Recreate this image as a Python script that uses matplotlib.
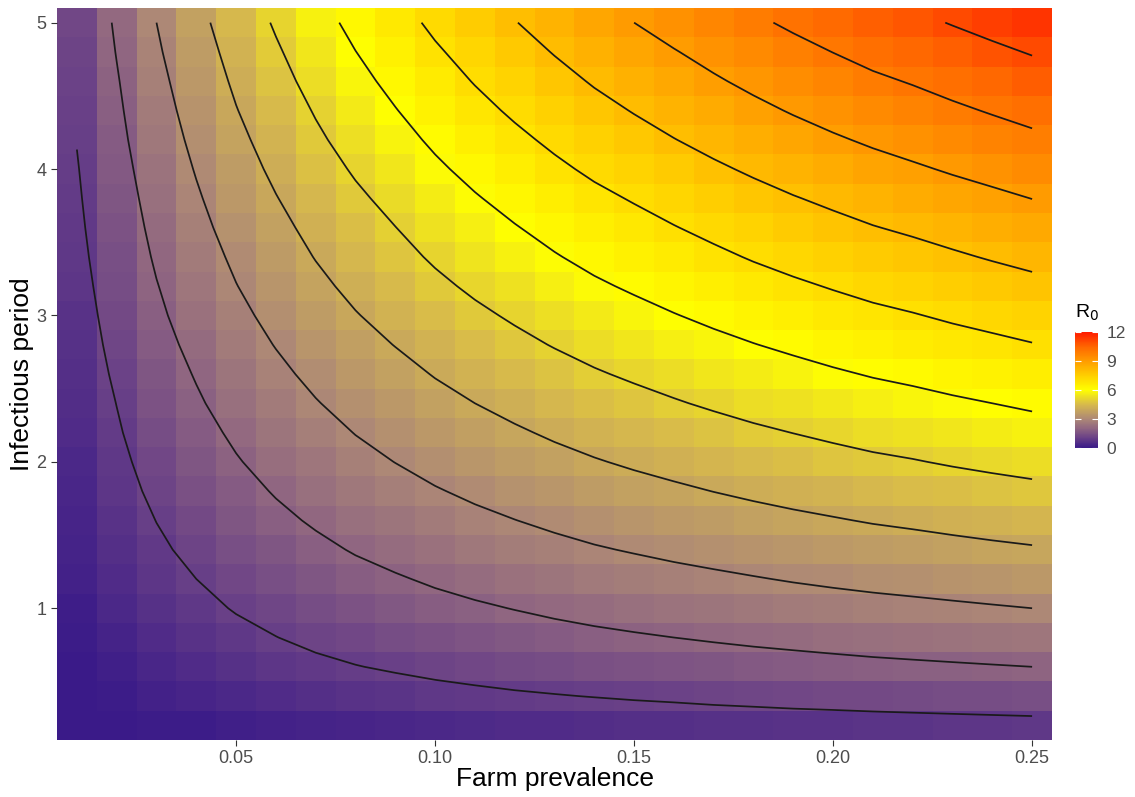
import numpy as np
import matplotlib
matplotlib.use("Agg")
import matplotlib.pyplot as plt
from matplotlib.colors import LinearSegmentedColormap

# grid of farm prevalence (columns) and infectious period (rows)
prevalence = [0.01, 0.02, 0.03, 0.04, 0.05, 0.06, 0.07, 0.08, 0.09, 0.10,
              0.11, 0.12, 0.13, 0.14, 0.15, 0.16, 0.17, 0.18, 0.19, 0.20,
              0.21, 0.22, 0.23, 0.24, 0.25]
infectious_period = [0.2, 0.4, 0.6, 0.8, 1.0, 1.2, 1.4, 1.6, 1.8, 2.0,
                     2.2, 2.4, 2.6, 2.8, 3.0, 3.2, 3.4, 3.6, 3.8, 4.0,
                     4.2, 4.4, 4.6, 4.8, 5.0]

# R0 for each (infectious period, prevalence) cell, one row per period
r0 = [
    [0.01, 0.03, 0.05, 0.08, 0.15, 0.20, 0.26, 0.31, 0.35, 0.40, 0.44, 0.47, 0.51, 0.54, 0.57, 0.60, 0.63, 0.65, 0.68, 0.70, 0.72, 0.74, 0.76, 0.78, 0.80],
    [0.02, 0.06, 0.19, 0.30, 0.40, 0.49, 0.58, 0.66, 0.73, 0.80, 0.86, 0.92, 0.97, 1.02, 1.07, 1.11, 1.16, 1.20, 1.24, 1.27, 1.31, 1.34, 1.37, 1.40, 1.43],
    [0.04, 0.17, 0.35, 0.49, 0.63, 0.76, 0.87, 0.98, 1.07, 1.16, 1.24, 1.32, 1.39, 1.46, 1.52, 1.58, 1.64, 1.69, 1.74, 1.79, 1.84, 1.88, 1.92, 1.96, 2.00],
    [0.07, 0.28, 0.49, 0.67, 0.84, 0.99, 1.14, 1.26, 1.38, 1.49, 1.59, 1.68, 1.77, 1.86, 1.93, 2.00, 2.07, 2.14, 2.20, 2.26, 2.32, 2.37, 2.42, 2.47, 2.52],
    [0.13, 0.38, 0.63, 0.84, 1.04, 1.21, 1.38, 1.53, 1.66, 1.80, 1.91, 2.02, 2.13, 2.22, 2.31, 2.40, 2.48, 2.56, 2.63, 2.70, 2.77, 2.82, 2.88, 2.94, 3.00],
    [0.19, 0.47, 0.76, 1.00, 1.23, 1.43, 1.62, 1.79, 1.94, 2.09, 2.23, 2.35, 2.47, 2.58, 2.68, 2.78, 2.87, 2.96, 3.05, 3.13, 3.20, 3.27, 3.34, 3.41, 3.47],
    [0.25, 0.57, 0.89, 1.16, 1.41, 1.64, 1.85, 2.05, 2.22, 2.39, 2.54, 2.68, 2.81, 2.94, 3.05, 3.16, 3.26, 3.36, 3.46, 3.54, 3.63, 3.70, 3.78, 3.86, 3.93],
    [0.31, 0.66, 1.01, 1.31, 1.60, 1.85, 2.08, 2.30, 2.48, 2.67, 2.84, 2.99, 3.14, 3.28, 3.40, 3.52, 3.64, 3.75, 3.85, 3.95, 4.05, 4.13, 4.22, 4.30, 4.38],
    [0.37, 0.75, 1.14, 1.46, 1.77, 2.05, 2.31, 2.54, 2.75, 2.95, 3.13, 3.30, 3.46, 3.62, 3.75, 3.88, 4.01, 4.13, 4.25, 4.35, 4.46, 4.55, 4.64, 4.73, 4.82],
    [0.42, 0.84, 1.26, 1.62, 1.95, 2.25, 2.53, 2.79, 3.01, 3.23, 3.43, 3.61, 3.79, 3.95, 4.10, 4.24, 4.38, 4.51, 4.64, 4.75, 4.87, 4.96, 5.07, 5.17, 5.26],
    [0.48, 0.93, 1.38, 1.76, 2.12, 2.44, 2.74, 3.02, 3.26, 3.50, 3.71, 3.91, 4.10, 4.28, 4.43, 4.59, 4.73, 4.88, 5.01, 5.14, 5.26, 5.36, 5.47, 5.58, 5.69],
    [0.53, 1.01, 1.50, 1.91, 2.30, 2.64, 2.96, 3.26, 3.51, 3.77, 4.00, 4.21, 4.41, 4.60, 4.77, 4.94, 5.10, 5.25, 5.39, 5.53, 5.66, 5.77, 5.89, 6.00, 6.12],
    [0.59, 1.10, 1.62, 2.05, 2.47, 2.83, 3.18, 3.49, 3.76, 4.04, 4.28, 4.51, 4.72, 4.93, 5.11, 5.28, 5.45, 5.61, 5.76, 5.91, 6.05, 6.16, 6.29, 6.41, 6.54],
    [0.64, 1.19, 1.74, 2.20, 2.64, 3.03, 3.39, 3.73, 4.02, 4.31, 4.57, 4.81, 5.04, 5.25, 5.45, 5.63, 5.81, 5.98, 6.14, 6.30, 6.45, 6.57, 6.71, 6.84, 6.97],
    [0.70, 1.27, 1.86, 2.35, 2.81, 3.22, 3.61, 3.96, 4.27, 4.57, 4.85, 5.10, 5.34, 5.57, 5.77, 5.97, 6.16, 6.34, 6.51, 6.68, 6.83, 6.96, 7.11, 7.24, 7.38],
    [0.75, 1.36, 1.97, 2.49, 2.98, 3.41, 3.82, 4.19, 4.51, 4.84, 5.13, 5.39, 5.65, 5.89, 6.10, 6.31, 6.51, 6.70, 6.88, 7.05, 7.22, 7.36, 7.51, 7.65, 7.80],
    [0.81, 1.44, 2.09, 2.63, 3.14, 3.60, 4.03, 4.42, 4.76, 5.10, 5.40, 5.68, 5.95, 6.20, 6.43, 6.64, 6.85, 7.06, 7.25, 7.43, 7.60, 7.74, 7.90, 8.06, 8.21],
    [0.86, 1.53, 2.20, 2.77, 3.31, 3.78, 4.23, 4.64, 4.99, 5.35, 5.67, 5.96, 6.24, 6.51, 6.74, 6.97, 7.19, 7.40, 7.60, 7.79, 7.97, 8.12, 8.29, 8.45, 8.61],
    [0.91, 1.61, 2.31, 2.91, 3.47, 3.97, 4.43, 4.86, 5.23, 5.60, 5.94, 6.25, 6.54, 6.82, 7.06, 7.30, 7.53, 7.75, 7.96, 8.15, 8.34, 8.50, 8.68, 8.84, 9.01],
    [0.96, 1.69, 2.43, 3.05, 3.64, 4.16, 4.65, 5.09, 5.48, 5.87, 6.22, 6.54, 6.85, 7.14, 7.39, 7.64, 7.88, 8.11, 8.33, 8.53, 8.73, 8.90, 9.08, 9.25, 9.43],
    [1.02, 1.78, 2.55, 3.19, 3.80, 4.35, 4.86, 5.32, 5.73, 6.13, 6.49, 6.83, 7.15, 7.45, 7.72, 7.98, 8.23, 8.47, 8.69, 8.91, 9.11, 9.29, 9.48, 9.66, 9.84],
    [1.07, 1.86, 2.66, 3.33, 3.97, 4.53, 5.06, 5.55, 5.97, 6.39, 6.77, 7.12, 7.45, 7.76, 8.04, 8.31, 8.57, 8.82, 9.06, 9.28, 9.50, 9.68, 9.87, 10.06, 10.25],
    [1.12, 1.94, 2.77, 3.47, 4.13, 4.72, 5.27, 5.77, 6.21, 6.65, 7.04, 7.40, 7.74, 8.07, 8.36, 8.64, 8.91, 9.17, 9.41, 9.64, 9.87, 10.05, 10.26, 10.45, 10.65],
    [1.17, 2.03, 2.89, 3.61, 4.29, 4.90, 5.47, 5.99, 6.45, 6.90, 7.30, 7.68, 8.04, 8.38, 8.68, 8.96, 9.24, 9.51, 9.77, 10.01, 10.24, 10.43, 10.64, 10.85, 11.05],
    [1.23, 2.11, 3.00, 3.75, 4.46, 5.09, 5.68, 6.22, 6.69, 7.16, 7.58, 7.97, 8.34, 8.69, 9.00, 9.30, 9.59, 9.87, 10.13, 10.38, 10.62, 10.82, 11.04, 11.25, 11.46],
]

contour_levels = [1, 2, 3, 4, 5, 6, 7, 8, 9, 10, 11]
legend_breaks = [0, 3, 6, 9, 12]

# purple -> mauve -> yellow -> orange -> red fill scale on 0..12
palette = LinearSegmentedColormap.from_list("r0", [
    (0 / 12, "#3a1a88"),
    (1 / 12, "#683f87"),
    (2 / 12, "#8f6581"),
    (3 / 12, "#ad8876"),
    (4.5 / 12, "#d7b94c"),
    (6 / 12, "#ffff00"),
    (7.5 / 12, "#ffcf00"),
    (9 / 12, "#ff9c00"),
    (10.5 / 12, "#ff6600"),
    (12 / 12, "#ff1a00"),
])

plt.rcParams["font.family"] = ["Liberation Sans", "DejaVu Sans"]

W, H = 1135, 797
fig = plt.figure(figsize=(W / 100, H / 100), dpi=100)
ax = fig.add_axes([57 / W, 1 - 740 / H, (1052 - 57) / W, (740 - 8) / H])

x = np.array(prevalence)
y = np.array(infectious_period)
z = np.array(r0)

# tile edges halfway between grid points
xe = np.concatenate([[x[0] - 0.005], (x[:-1] + x[1:]) / 2, [x[-1] + 0.005]])
ye = np.concatenate([[y[0] - 0.1], (y[:-1] + y[1:]) / 2, [y[-1] + 0.1]])
mesh = ax.pcolormesh(xe, ye, z, cmap=palette, vmin=0, vmax=12, shading="flat")
ax.contour(x, y, z, levels=contour_levels, colors="#1a1a1a", linewidths=1.25)

ax.set_xlim(xe[0], xe[-1])
ax.set_ylim(ye[0], ye[-1])
ax.set_xticks([0.05, 0.10, 0.15, 0.20, 0.25])
ax.set_xticklabels(["0.05", "0.10", "0.15", "0.20", "0.25"])
ax.set_yticks([1, 2, 3, 4, 5])
ax.tick_params(colors="#333333", labelcolor="#4d4d4d", labelsize=13,
               length=4, width=0.8)
for s in ax.spines.values():
    s.set_visible(False)
ax.set_xlabel("Farm prevalence", fontsize=19, labelpad=0)
ax.set_ylabel("Infectious period", fontsize=19, labelpad=2)

cax = fig.add_axes([1075 / W, 1 - 448 / H, 23 / W, 116 / H])
cb = fig.colorbar(mesh, cax=cax, ticks=legend_breaks)
cb.outline.set_visible(False)
cax.tick_params(direction="in", color="white", length=4, width=0.8,
                left=True, right=True, labelsize=12.5, labelcolor="#4d4d4d",
                pad=6)
fig.text(1075 / W, 1 - 323 / H, r"R$_0$", fontsize=14, ha="left", va="bottom")

fig.savefig("out.png", dpi=100)
